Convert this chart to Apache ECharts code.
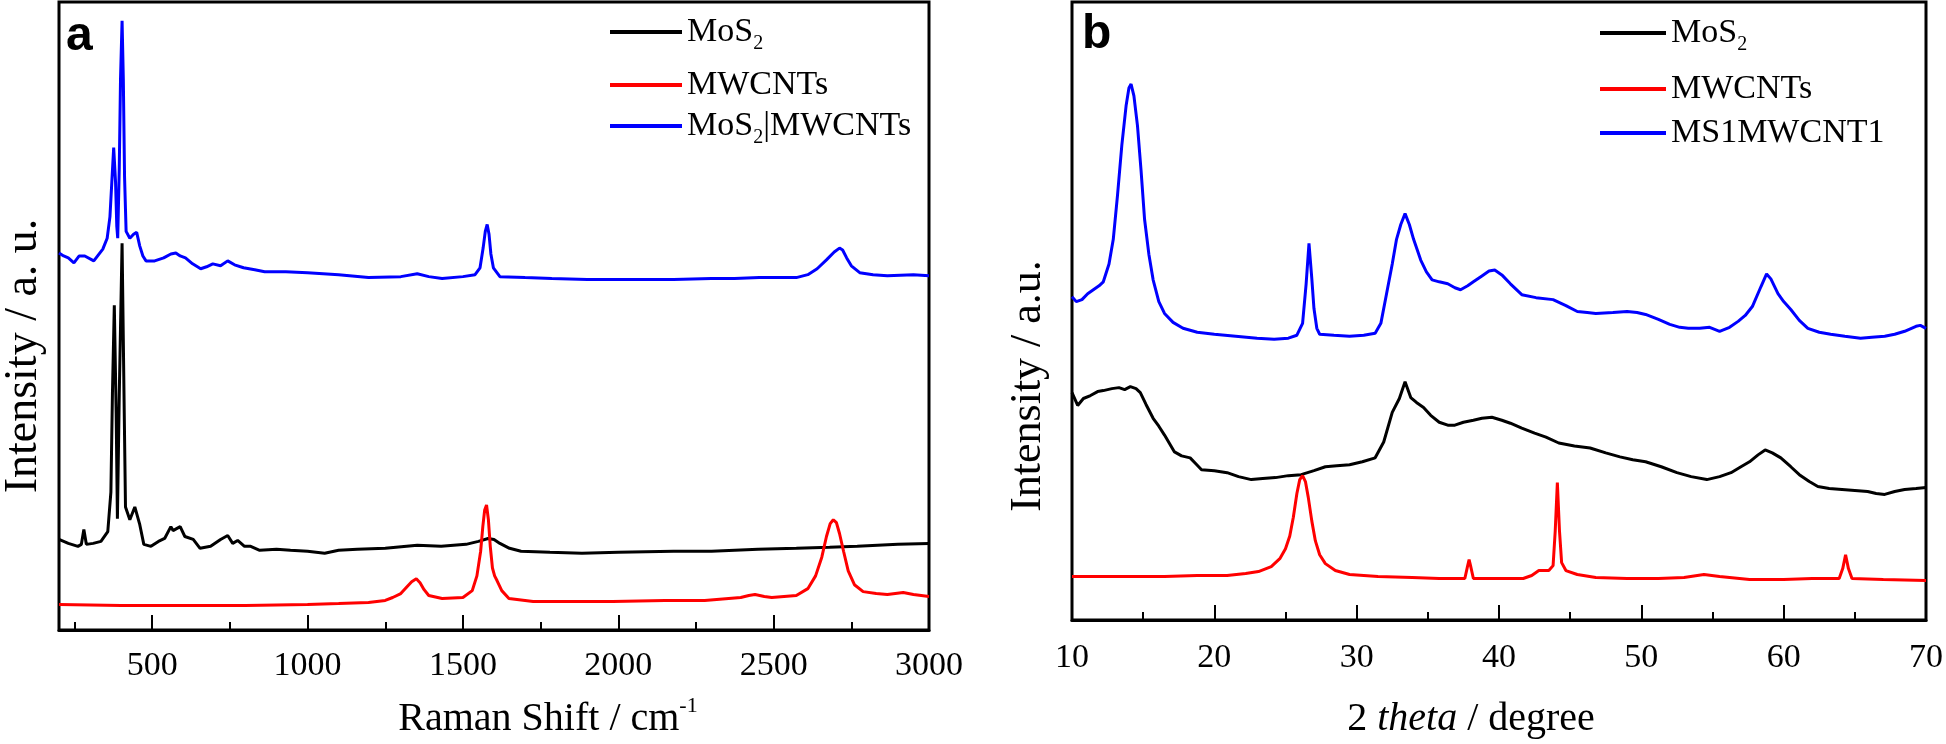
<!DOCTYPE html>
<html><head><meta charset="utf-8">
<script src="https://cdn.jsdelivr.net/npm/echarts@6/dist/echarts.min.js"></script>
<style>html,body{margin:0;padding:0;background:#fff}#c{width:1946px;height:744px}</style>
</head><body><div id="c"></div>
<script>
// ---------- Panel a: Raman (x: Raman shift cm-1, y: intensity a.u.) ----------
const ramanMoS2 = [[200,92],[230,88],[261,85],[272,87],[280,102],[288,87],[310,88],[335,90],[357,100],[367,140],[372,240],[378,330],[384,220],[388,113],[394,240],[403,393],[410,220],[414,125],[428,112],[444,125],[460,107],[473,87],[496,85],[520,90],[540,93],[560,105],[567,101],[573,100],[590,105],[605,95],[632,92],[654,83],[688,85],[720,92],[743,96],[759,88],[775,91],[797,85],[817,85],[846,81],[900,82],[945,81],[1000,80],[1055,78],[1100,81],[1160,82],[1250,83],[1353,86],[1430,85],[1510,87],[1550,90],[1581,93],[1600,92],[1619,88],[1650,83],[1687,80],[1780,79],[1883,78],[2000,79],[2178,80],[2300,80],[2450,82],[2573,83],[2680,84],[2769,85],[2900,87],[3000,88]];
const ramanMWCNTs = [[200,26],[400,25],[607,25],[800,25],[1000,26],[1100,27],[1196,28],[1250,30],[1274,33],[1300,37],[1320,44],[1335,49],[1350,52],[1362,48],[1375,41],[1390,35],[1433,32],[1500,33],[1530,40],[1545,55],[1557,80],[1564,105],[1570,122],[1576,127],[1582,112],[1588,85],[1595,63],[1602,55],[1610,50],[1625,40],[1648,32],[1726,29],[1850,29],[1982,29],[2150,30],[2278,30],[2394,33],[2420,35],[2440,36],[2470,34],[2494,33],[2573,35],[2610,42],[2635,55],[2655,74],[2670,95],[2682,108],[2692,112],[2702,109],[2712,98],[2725,80],[2740,60],[2760,46],[2788,39],[2830,37],[2866,36],[2917,38],[2950,36],[3000,34]];
const ramanComposite = [[200,383],[215,380],[230,378],[248,373],[265,380],[283,380],[312,375],[341,387],[355,398],[364,420],[370,455],[376,490],[382,455],[386,410],[389,398],[394,470],[398,560],[403,619],[407,560],[411,460],[416,405],[428,398],[440,402],[450,404],[460,390],[470,380],[480,375],[508,375],[537,378],[560,382],[576,383],[590,380],[607,378],[630,372],[656,367],[675,369],[695,372],[720,370],[743,375],[765,371],[794,368],[830,366],[862,364],[930,364],[1000,363],[1100,361],[1196,358],[1300,359],[1353,362],[1390,359],[1433,357],[1500,359],[1539,361],[1555,368],[1565,388],[1572,405],[1578,412],[1584,402],[1590,382],[1598,368],[1619,359],[1700,358],[1786,357],[1900,356],[1982,356],[2100,356],[2178,356],[2300,357],[2374,357],[2454,358],[2520,358],[2573,358],[2610,361],[2640,367],[2670,376],[2695,384],[2712,388],[2722,386],[2735,378],[2750,370],[2777,363],[2820,361],[2866,360],[2950,361],[3000,360]];
const ramanMajorTicks = [500,1000,1500,2000,2500,3000];
const ramanMinorTicks = [250,750,1250,1750,2250,2750];
const ramanLegendNames = ['MoS₂', 'MWCNTs', 'MoS₂|MWCNTs'];

// ---------- Panel b: XRD (x: 2 theta degree, y: intensity a.u.) ----------
const xrdMoS2 = [[10.0,230],[10.4,217],[10.8,224],[11.3,227],[11.8,231],[12.2,232],[12.8,234],[13.3,235],[13.7,233],[14.1,236],[14.5,234],[14.8,230],[15.2,218],[15.7,204],[16.1,196],[16.5,187],[17.2,170],[17.7,166],[18.3,164],[18.7,158],[19.1,152],[20.0,151],[20.9,149],[21.7,145],[22.6,142],[23.4,143],[24.3,144],[25.2,146],[26.1,147],[27.0,151],[27.8,155],[28.6,156],[29.5,157],[30.4,160],[31.3,164],[31.9,180],[32.5,210],[33.0,224],[33.4,241],[33.8,225],[34.2,220],[34.7,215],[35.2,207],[35.8,200],[36.4,197],[36.9,197],[37.5,200],[38.2,202],[38.8,204],[39.5,205],[40.2,202],[40.8,199],[41.6,194],[42.5,189],[43.3,185],[44.2,179],[45.3,176],[46.4,174],[47.5,169],[48.5,165],[49.4,162],[50.3,160],[51.4,155],[52.5,149],[53.5,145],[54.6,142],[55.5,145],[56.3,149],[57.0,155],[57.6,160],[58.2,167],[58.7,172],[59.2,169],[59.8,164],[60.5,155],[61.1,147],[61.8,140],[62.4,135],[63.2,133],[64.1,132],[65.0,131],[65.9,130],[66.5,128],[67.1,127],[67.8,130],[68.5,132],[69.3,133],[70.0,134]];
const xrdMWCNTs = [[10.0,44],[13.0,44],[16.5,44],[18.8,45],[20.9,45],[22.2,47],[23.1,49],[24.0,54],[24.6,62],[25.0,72],[25.3,85],[25.55,104],[25.8,128],[26.0,142],[26.2,146],[26.4,140],[26.6,124],[26.85,100],[27.1,80],[27.4,66],[27.8,57],[28.5,50],[29.5,46],[31.5,44],[33.9,43],[35.8,42],[37.6,42],[37.8,55],[37.9,61],[38.0,55],[38.2,42],[40.0,42],[41.7,42],[42.3,45],[42.8,50],[43.5,50],[43.8,55],[43.95,90],[44.1,139],[44.25,90],[44.4,58],[44.7,50],[45.5,46],[46.8,43],[49.0,42],[51.2,42],[53.0,43],[54.4,46],[55.5,44],[57.6,41],[60.0,41],[62.0,42],[63.9,42],[64.15,52],[64.35,66],[64.55,52],[64.8,42],[67.0,41],[70.0,40]];
const xrdComposite = [[10.0,327],[10.3,322],[10.7,324],[11.1,330],[11.5,334],[11.9,338],[12.2,342],[12.6,360],[12.9,385],[13.2,430],[13.5,480],[13.8,520],[14.0,538],[14.15,542],[14.35,530],[14.6,500],[14.85,455],[15.1,405],[15.4,370],[15.7,344],[16.1,322],[16.5,310],[17.1,301],[17.8,295],[18.8,291],[20.0,289],[21.5,287],[23.0,285],[24.2,284],[25.2,285],[25.8,288],[26.2,300],[26.45,340],[26.65,381],[26.85,345],[27.0,315],[27.2,295],[27.4,289],[28.4,288],[29.5,287],[30.5,288],[31.3,290],[31.7,300],[32.1,330],[32.5,360],[32.8,385],[33.1,400],[33.4,411],[33.7,400],[34.0,385],[34.5,364],[34.9,352],[35.3,344],[35.8,342],[36.4,340],[36.9,336],[37.3,334],[37.8,338],[38.2,342],[38.8,348],[39.3,353],[39.7,354],[40.2,349],[40.8,340],[41.6,329],[42.6,326],[43.8,324],[44.7,318],[45.5,312],[46.2,311],[46.8,310],[48.0,311],[49.0,312],[49.7,311],[50.3,309],[51.2,304],[52.0,299],[52.7,296],[53.3,295],[54.1,295],[54.8,296],[55.5,292],[56.2,296],[56.8,302],[57.3,308],[57.8,317],[58.4,337],[58.8,350],[59.1,345],[59.6,330],[60.0,322],[60.5,314],[61.1,303],[61.7,295],[62.5,291],[63.3,289],[64.3,287],[65.4,285],[66.2,286],[67.1,287],[67.8,289],[68.5,292],[69.3,297],[69.6,298],[70.0,295]];
const xrdMajorTicks = [10,20,30,40,50,60,70];
const xrdMinorTicks = [15,25,35,45,55,65];
const xrdLegendNames = ['MoS₂', 'MWCNTs', 'MS1MWCNT1'];

const serif = '"Liberation Serif", "Times New Roman", serif';
const legendFormat = function (name) {
  if (name === 'MoS₂') return '{t|MoS}{s|2}';
  if (name === 'MoS₂|MWCNTs') return '{t|MoS}{s|2}{t||MWCNTs}';
  return '{t|' + name + '}';
};
const legendRich = {
  t: { fontFamily: serif, fontSize: 34, lineHeight: 44, color: '#000' },
  s: { fontFamily: serif, fontSize: 20, lineHeight: 10, verticalAlign: 'bottom', color: '#000' }
};
function legendItem(name, left, top, w) {
  return { orient: 'vertical', left: left, top: top, itemWidth: w, itemHeight: 4, icon: 'rect',
    data: [name], formatter: legendFormat, textStyle: { rich: legendRich }, selectedMode: false };
}

function majorAxis(grid, min, max, ticks, name, nameRich, nameGap, pad, margin) {
  return {
    type: 'value', gridIndex: grid, min: min, max: max, position: 'bottom',
    axisLine: { show: true, lineStyle: { color: '#000', width: 3 } },
    axisTick: { show: true, inside: true, length: 15, customValues: ticks, lineStyle: { color: '#000', width: 2 } },
    axisLabel: { show: true, customValues: ticks, margin: margin, color: '#000', fontFamily: serif, fontSize: 34,
      formatter: function (v) { return String(v); } },
    splitLine: { show: false },
    name: name, nameLocation: 'middle', nameGap: nameGap,
    nameTextStyle: { rich: nameRich, padding: pad }
  };
}
function minorAxis(grid, min, max, ticks) {
  return {
    type: 'value', gridIndex: grid, min: min, max: max, position: 'bottom',
    axisLine: { show: false },
    axisTick: { show: true, inside: true, length: 8, customValues: ticks, lineStyle: { color: '#000', width: 2 } },
    axisLabel: { show: false }, splitLine: { show: false }
  };
}
function yAx(grid, max, name, gap, size, pad) {
  return {
    type: 'value', gridIndex: grid, min: 0, max: max,
    axisLine: { show: false }, axisTick: { show: false }, axisLabel: { show: false }, splitLine: { show: false },
    name: name, nameLocation: 'middle', nameRotate: 90, nameGap: gap,
    nameTextStyle: { fontFamily: serif, fontSize: size, color: '#000', padding: pad }
  };
}
function line(name, data, color, xi, yi) {
  return { type: 'line', name: name, data: data, xAxisIndex: xi, yAxisIndex: yi, showSymbol: false, symbol: 'none',
    lineStyle: { color: color, width: 3 }, itemStyle: { color: color }, animation: false, silent: true };
}

const chart = echarts.init(document.getElementById('c'), null, { renderer: 'canvas' });
chart.setOption({
  animation: false,
  backgroundColor: '#fff',
  grid: [
    { left: 57, top: 2, width: 872, height: 638, show: true, borderColor: '#000', borderWidth: 3, backgroundColor: 'transparent' },
    { left: 1072, top: 2, width: 855, height: 625, show: true, borderColor: '#000', borderWidth: 3, backgroundColor: 'transparent' }
  ],
  xAxis: [
    majorAxis(0, 200, 3000, ramanMajorTicks, '{t|Raman Shift / cm}{p|-1}', {
      t: { fontFamily: serif, fontSize: 40, lineHeight: 48, color: '#000' },
      p: { fontFamily: serif, fontSize: 22, lineHeight: 16, verticalAlign: 'top', color: '#000' }
    }, 65, [0, 0, 0, 108], 19),
    minorAxis(0, 200, 3000, ramanMinorTicks),
    majorAxis(1, 10, 70, xrdMajorTicks, '{t|2 }{i|theta}{t| / degree}', {
      t: { fontFamily: serif, fontSize: 40, lineHeight: 48, color: '#000' },
      i: { fontFamily: serif, fontSize: 40, lineHeight: 48, fontStyle: 'italic', color: '#000' }
    }, 75, [0, 56, 0, 0], 21),
    minorAxis(1, 10, 70, xrdMinorTicks)
  ],
  yAxis: [
    yAx(0, 638, 'Intensity / a. u.', 12, 46, [0, 80, 0, 0]),
    yAx(1, 625, 'Intensity / a.u.', 22, 44, [0, 150, 0, 0])
  ],
  legend: [
    legendItem(ramanLegendNames[0], 605, 10, 72),
    legendItem(ramanLegendNames[1], 605, 63, 72),
    legendItem(ramanLegendNames[2], 605, 104, 72),
    legendItem(xrdLegendNames[0], 1595, 11, 66),
    legendItem(xrdLegendNames[1], 1595, 67, 66),
    legendItem(xrdLegendNames[2], 1595, 111, 66)
  ],
  graphic: [
    { type: 'text', left: 66, top: 13, style: { text: 'a', font: 'bold 48px "Liberation Sans", Arial, sans-serif', fill: '#000' } },
    { type: 'text', left: 1082, top: 11, style: { text: 'b', font: 'bold 48px "Liberation Sans", Arial, sans-serif', fill: '#000' } }
  ],
  series: [
    line('MoS₂', ramanMoS2, '#000000', 0, 0),
    line('MWCNTs', ramanMWCNTs, '#ff0000', 0, 0),
    line('MoS₂|MWCNTs', ramanComposite, '#0000ff', 0, 0),
    line('MoS₂', xrdMoS2, '#000000', 2, 1),
    line('MWCNTs', xrdMWCNTs, '#ff0000', 2, 1),
    line('MS1MWCNT1', xrdComposite, '#0000ff', 2, 1)
  ]
});
</script></body></html>
